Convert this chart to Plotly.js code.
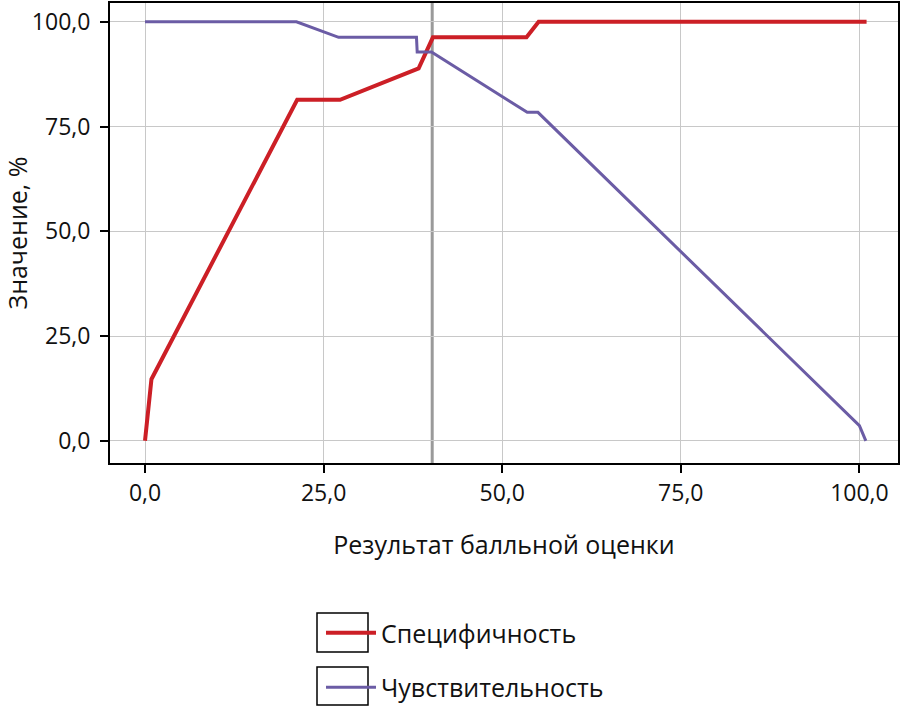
<!DOCTYPE html>
<html>
<head>
<meta charset="utf-8">
<script src="https://cdn.plot.ly/plotly-3.0.1.min.js"></script>
<style>html,body{margin:0;padding:0;background:#fff;}#chart{width:900px;height:707px;}</style>
</head>
<body>
<div id="chart"></div>
<script>
// Data
const specX = [0, 0.9, 21.3, 27.3, 38.3, 40.3, 53.4, 55.1, 101.0];
const specY = [0, 14.7, 81.4, 81.4, 88.9, 96.3, 96.3, 100, 100];
const sensX = [0, 21.2, 27.1, 38.0, 38.1, 40.1, 53.5, 55.0, 100.0, 100.9];
const sensY = [100, 100, 96.3, 96.3, 92.8, 92.8, 78.4, 78.4, 3.6, 0];
const cutoff = 40.2;
const seriesNames = ["Специфичность", "Чувствительность"];
const tickVals = [0, 25, 50, 75, 100];

const FONT = "Open Sans, Noto Sans, sans-serif";
const traces = [
  {x: specX, y: specY, mode: "lines", name: seriesNames[0], legendgroup: "a",
   line: {color: "#cc1f26", width: 4}},
  {x: sensX, y: sensY, mode: "lines", name: seriesNames[1], legendgroup: "b",
   line: {color: "#6b5ca5", width: 3}}
];

const W = 788, H = 460, L = 110, T = 3;
function px(x){ return (x - L) / W; }
function py(y){ return (T + H - y) / H; }

const layout = {
  width: 900, height: 707,
  margin: {l: L, r: 2, t: T, b: 244, autoexpand: false},
  separators: ", ",
  paper_bgcolor: "#fff", plot_bgcolor: "#fff",
  font: {family: FONT, size: 23, color: "#111"},
  showlegend: true,
  legend: {x: px(321), xanchor: "left", y: py(610), yanchor: "top",
           font: {family: FONT, size: 25, color: "#111"}, tracegroupgap: 19,
           itemwidth: 50, bgcolor: "rgba(0,0,0,0)"},
  xaxis: {range: [-4.9, 105.4], tickvals: tickVals, tickformat: ".1f",
          showgrid: true, gridcolor: "#c8c8c8", gridwidth: 1, zeroline: false,
          showline: true, linecolor: "#000", linewidth: 2, mirror: true,
          ticks: "outside", ticklen: 8, tickwidth: 2, tickcolor: "#000",
          tickfont: {family: FONT, size: 23},
          title: {text: "Результат балльной оценки", font: {family: FONT, size: 25}, standoff: 30}},
  yaxis: {range: [-5.3, 104.5], tickvals: tickVals, tickformat: ".1f",
          showgrid: true, gridcolor: "#c8c8c8", gridwidth: 1, zeroline: false,
          showline: true, linecolor: "#000", linewidth: 2, mirror: true,
          ticks: "outside", ticklen: 8, tickwidth: 2, tickcolor: "#000",
          ticklabelstandoff: 5,
          tickfont: {family: FONT, size: 23},
          title: {text: "Значение, %", font: {family: FONT, size: 25}, standoff: 0}},
  shapes: [
    {type: "line", xref: "x", yref: "paper", x0: cutoff, x1: cutoff, y0: 0, y1: 1,
     line: {color: "#9a9a9a", width: 3}, layer: "below"},
    {type: "rect", xref: "paper", yref: "paper", x0: px(317), x1: px(368), y0: py(613), y1: py(652),
     line: {color: "#000", width: 1.5}},
    {type: "rect", xref: "paper", yref: "paper", x0: px(317), x1: px(368), y0: py(667), y1: py(705),
     line: {color: "#000", width: 1.5}}
  ]
};

Plotly.newPlot("chart", traces, layout, {staticPlot: true, displayModeBar: false});
</script>
</body>
</html>
